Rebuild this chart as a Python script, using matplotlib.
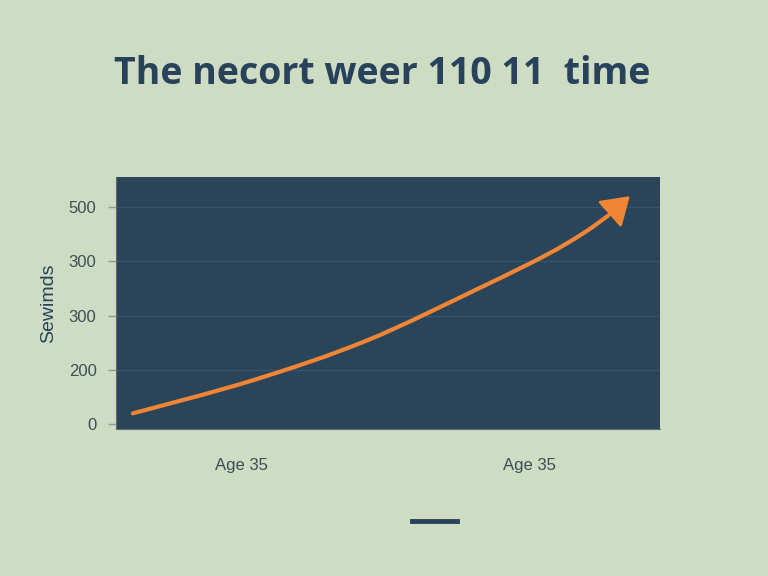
import matplotlib
matplotlib.use("Agg")
import matplotlib.pyplot as plt
from matplotlib.lines import Line2D
from matplotlib.path import Path
from matplotlib.patches import PathPatch
import numpy as np

# Data
x_vals = [0.31, 2.52, 4.61, 6.69, 7.92, 8.60, 9.05, 9.45]
y_vals = [0.20, 0.81, 1.54, 2.51, 3.12, 3.52, 3.84, 4.20]
y_tick_pos = [0, 1, 2, 3, 4]
y_tick_labels = ["0", "200", "300", "300", "500"]
x_tick_pos = [2.3, 7.6]
x_tick_labels = ["Age 35", "Age 35"]
title = "The necort weer 110 11  time"
ylabel = "Sewimds"

bg = "#cddcc3"
face = "#2a4459"
orange = "#ef8535"
dark = "#27425a"
tick_col = "#3c4f56"

plt.rcParams['font.family'] = ['Liberation Sans', 'DejaVu Sans']

fig = plt.figure(figsize=(7.68, 5.76), dpi=100, facecolor=bg)
ax = fig.add_axes([0.151, 0.255, 0.708, 0.4375])
ax.set_facecolor(face)

ax.set_xlim(0, 10)
ax.set_ylim(-0.09, 4.55)

for yp in y_tick_pos[1:]:
    ax.axhline(yp, color="#36546b", lw=0.9, zorder=1)

# smooth curve through the points (Catmull-Rom -> cubic Bezier), ending before the head
px = np.array(x_vals[:-1])
py = np.array(y_vals[:-1])
pts = np.column_stack([px, py])
verts = [pts[0]]
codes = [Path.MOVETO]
for i in range(len(pts) - 1):
    p0 = pts[i - 1] if i > 0 else pts[i]
    p1 = pts[i]
    p2 = pts[i + 1]
    p3 = pts[i + 2] if i + 2 < len(pts) else pts[i + 1]
    c1 = p1 + (p2 - p0) / 6.0
    c2 = p2 - (p3 - p1) / 6.0
    verts += [c1, c2, p2]
    codes += [Path.CURVE4] * 3
ax.add_patch(PathPatch(Path(verts, codes), fill=False, edgecolor=orange, lw=3,
                       capstyle="round", joinstyle="round", zorder=3))

ax.annotate("", xy=(x_vals[-1], y_vals[-1]), xytext=(x_vals[-2], y_vals[-2]),
            arrowprops=dict(arrowstyle="-|>,head_length=1.0,head_width=0.65",
                            color=orange, lw=2, shrinkA=0, shrinkB=0,
                            mutation_scale=17), zorder=4)

ax.set_yticks(y_tick_pos)
ax.set_yticklabels(y_tick_labels)
ax.set_xticks(x_tick_pos)
ax.set_xticklabels(x_tick_labels)
ax.tick_params(axis="y", colors="#8a9a98", labelcolor=tick_col, labelsize=12,
               length=6, width=1, pad=8)
ax.tick_params(axis="x", length=0, labelcolor=tick_col, labelsize=12, pad=21)

for s in ["top", "right"]:
    ax.spines[s].set_visible(False)
ax.spines["left"].set_color("#5d6f73")
ax.spines["bottom"].set_color("#5d6f73")

ax.set_ylabel(ylabel, fontsize=14, color=dark, labelpad=8)

fig.text(0.497, 0.871, title, ha="center", va="center", fontsize=27,
         fontweight="bold", color=dark, family=["Open Sans", "DejaVu Sans"])

fig.add_artist(Line2D([412 / 768, 457 / 768], [1 - 521 / 576, 1 - 521 / 576],
                      color=dark, lw=3.5, transform=fig.transFigure))

fig.savefig("out.png", dpi=100, facecolor=bg)
